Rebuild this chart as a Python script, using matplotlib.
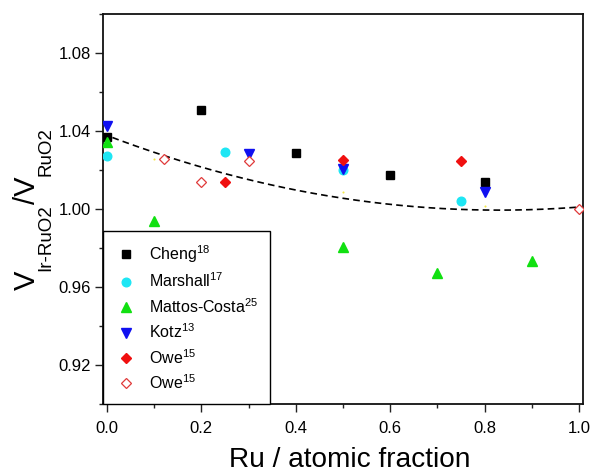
import numpy as np
import matplotlib
matplotlib.use("Agg")
import matplotlib.pyplot as plt

plt.rcParams["font.family"] = ["Liberation Sans", "DejaVu Sans"]
plt.rcParams["mathtext.fontset"] = "custom"
plt.rcParams["mathtext.rm"] = "Liberation Sans"
plt.rcParams["mathtext.it"] = "Liberation Sans"
plt.rcParams["mathtext.bf"] = "Liberation Sans:bold"
plt.rcParams["mathtext.default"] = "regular"

# Lattice volume ratio V(Ir-RuO2)/V(RuO2) versus Ru atomic fraction
cheng_x = [0.0, 0.2, 0.4, 0.6, 0.8]
cheng_y = [1.0368, 1.0506, 1.0289, 1.0173, 1.0139]

marshall_x = [0.0, 0.25, 0.5, 0.75]
marshall_y = [1.0270, 1.0292, 1.0199, 1.0041]

mattos_x = [0.0, 0.1, 0.5, 0.7, 0.9]
mattos_y = [1.0343, 0.9937, 0.9805, 0.9672, 0.9731]

kotz_x = [0.0, 0.3, 0.5, 0.8]
kotz_y = [1.0428, 1.0280, 1.0205, 1.0085]

owe_x = [0.25, 0.5, 0.75]
owe_y = [1.0139, 1.0250, 1.0246]

owe_open_x = [0.12, 0.2, 0.3, 1.0]
owe_open_y = [1.0258, 1.0139, 1.0245, 1.0000]

faint_x = [0.1, 0.5, 0.8]
faint_y = [1.0258, 1.0089, 1.0017]

# quadratic trend: y = c0 + c1*x + c2*x^2
trend_coef = [1.0377, -0.0921, 0.0554]

xticks = [0.0, 0.2, 0.4, 0.6, 0.8, 1.0]
yticks = [0.92, 0.96, 1.00, 1.04, 1.08]

# y-axis title pieces: (text, size in pt, is subscript)
ylabel_parts = [("V", 21, False), ("Ir-RuO2", 13.5, True),
                ("/V", 21, False), ("RuO2", 13.5, True)]

W, H = 593, 473
fig = plt.figure(figsize=(W / 100, H / 100), dpi=100)
ax = fig.add_axes([103 / W, 1 - 404 / H, 480 / W, 390 / H])

xs = np.linspace(-0.01, 1.0, 200)
ax.plot(xs, trend_coef[0] + trend_coef[1] * xs + trend_coef[2] * xs ** 2,
        color="black", lw=1.2, ls=(0, (4, 2.5)), zorder=1)

ax.plot(faint_x, faint_y, ls="none", marker="o", ms=1.5, mfc="#f2e84a",
        mec="none", zorder=2)
ax.plot(cheng_x, cheng_y, ls="none", marker="s", ms=5.5, mfc="black",
        mec="black", label="Cheng$^{18}$", zorder=3)
ax.plot(marshall_x, marshall_y, ls="none", marker="o", ms=6.2, mfc="#1ee6f4",
        mec="#1ee6f4", label="Marshall$^{17}$", zorder=3)
ax.plot(mattos_x, mattos_y, ls="none", marker="^", ms=6.8, mfc="#11e011",
        mec="#11e011", label="Mattos-Costa$^{25}$", zorder=3)
ax.plot(kotz_x, kotz_y, ls="none", marker="v", ms=6.8, mfc="#1010f0",
        mec="#1010f0", label="Kotz$^{13}$", zorder=3)
ax.plot(owe_x, owe_y, ls="none", marker="D", ms=5.2, mfc="#f01010",
        mec="#f01010", label="Owe$^{15}$", zorder=3)
ax.plot(owe_open_x, owe_open_y, ls="none", marker="D", ms=5.2, mfc="white",
        mec="#e03a3a", mew=0.9, label="Owe$^{15}$", zorder=3)

ax.set_xlim(-0.0085, 1.0085)
ax.set_ylim(0.9006, 1.0994)
ax.set_xticks(xticks)
ax.set_xticklabels([f"{v:.1f}" for v in xticks])
ax.set_yticks(yticks)
ax.set_yticklabels([f"{v:.2f}" for v in yticks])
ax.set_xticks(np.arange(0.1, 1.0, 0.2), minor=True)
ax.set_yticks([0.90, 0.94, 0.98, 1.02, 1.06, 1.10], minor=True)

ax.tick_params(which="both", direction="out", top=False, right=False,
               labelsize=12, width=1.0, color="#222222")
ax.tick_params(axis="x", which="major", length=5.5, pad=7)
ax.tick_params(axis="y", which="major", length=5.5, pad=3)
ax.tick_params(which="minor", length=3)
for sp in ax.spines.values():
    sp.set_linewidth(1.3)
    sp.set_color("#111111")

ax.set_xlabel("Ru / atomic fraction", fontsize=20.2)
ax.xaxis.set_label_coords(0.515, -0.11)
ax.xaxis.label.set_va("top")

# vertical title built from pieces so the subscripts can be sized freely
renderer = fig.canvas.get_renderer()
base_x, sub_x = 35, 50
pos_y = H - 290
for text, size, is_sub in ylabel_parts:
    t = fig.text((sub_x if is_sub else base_x) / W, pos_y / H, text,
                 fontsize=size, rotation=90, rotation_mode="anchor",
                 ha="left", va="baseline")
    pos_y += t.get_window_extent(renderer).height

leg = ax.legend(loc="lower left", bbox_to_anchor=(0, 0), borderaxespad=0,
                frameon=True, fancybox=False, framealpha=1, edgecolor="black",
                fontsize=11.5, handlelength=1.35, handletextpad=0.8,
                labelspacing=0.42, borderpad=0.75, numpoints=1)
leg.get_frame().set_linewidth(1.0)

fig.savefig("out.png", dpi=100)
